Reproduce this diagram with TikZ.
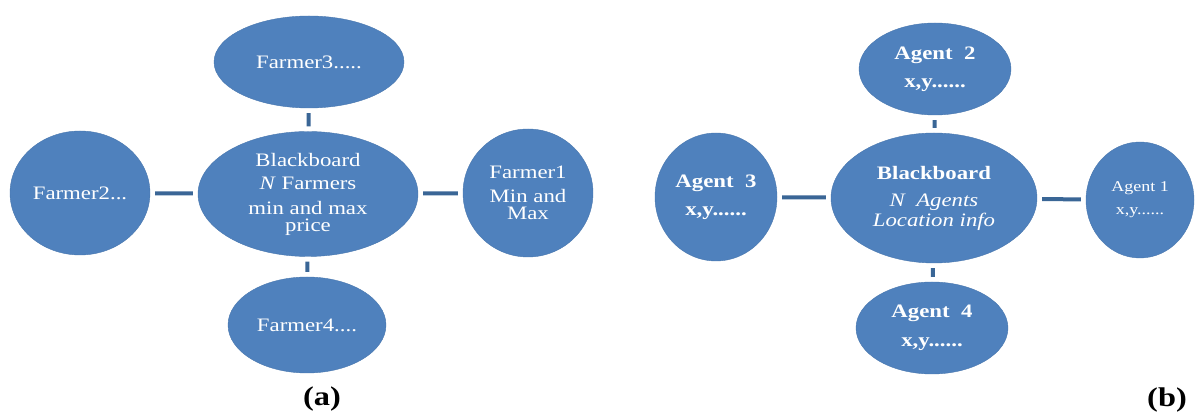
\documentclass[tikz,border=0pt]{standalone}
\usepackage{fontspec}
\setmainfont[FakeStretch=1.2]{Liberation Serif}
\usepackage{tikz}
\usetikzlibrary{shapes.geometric}
\definecolor{myblue}{RGB}{79,129,189}
\definecolor{mylink}{RGB}{58,102,150}

\begin{document}
\begin{tikzpicture}[x=1pt,y=1pt,
          bbnode/.style={ellipse,fill=myblue,draw=myblue!92!black,text=white,
            inner sep=0pt,align=center,font=\fontsize{19}{20}\selectfont},
          agnode/.style={bbnode,font=\fontsize{19}{20}\selectfont\bfseries},
          link/.style={mylink,line width=4pt,shorten >=5pt,shorten <=5pt},
          caption/.style={font=\fontsize{27}{30}\selectfont\bfseries}
          ]
          \useasboundingbox (0,0) rectangle (1195,417);
          % the farmers around the blackboard (a)
          \node[bbnode,minimum width=220,minimum height=125] (bba) at (308,223)
            {Blackboard\\[3pt] \textit{N} Farmers\\[5pt] min and max\\[-3pt] price};
          \node[bbnode,minimum width=190,minimum height=92] (f3) at (309,355) {Farmer3.....};
          \node[bbnode,minimum width=140,minimum height=124] (f2) at (80,224) {Farmer2...};
          \node[bbnode,minimum width=130,minimum height=128] (f1) at (528,224)
            {Farmer1\\[4pt] Min and\\[-3pt] Max};
          \node[bbnode,minimum width=158,minimum height=96] (f4) at (307,92) {Farmer4....};
          \node[caption] (capa) at (322,18) {(a)};
          % the agents around the blackboard (b)
          \node[bbnode,minimum width=206,minimum height=130] (bbb) at (934,219)
            {\textbf{Blackboard}\\[7pt] \textit{N\ \ Agents}\\ \textit{Location info}};
          \node[agnode,minimum width=152,minimum height=92] (a2) at (935,348) {Agent\ \ 2\\[8pt] x,y......};
          \node[agnode,minimum width=122,minimum height=128] (a3) at (716,220) {Agent\ \ 3\\[8pt] x,y......};
          \node[bbnode,minimum width=108,minimum height=116,font=\fontsize{15}{17}\selectfont] (a1) at (1140,217)
            {Agent 1\\[6pt] x,y......};
          \node[agnode,minimum width=152,minimum height=92] (a4) at (932,89) {Agent\ \ 4\\[9pt] x,y......};
          \node[caption] (capb) at (1167,17) {(b)};
          % the links
          \draw[link] (bba) -- (f3);
          \draw[link] (bba) -- (f2);
          \draw[link] (bba) -- (f1);
          \draw[link] (bba) -- (f4);
          \draw[link] (bbb) -- (a2);
          \draw[link] (bbb) -- (a3);
          \draw[link] (bbb) -- (a1);
          \draw[link] (bbb) -- (a4);
        \end{tikzpicture}
\end{document}
